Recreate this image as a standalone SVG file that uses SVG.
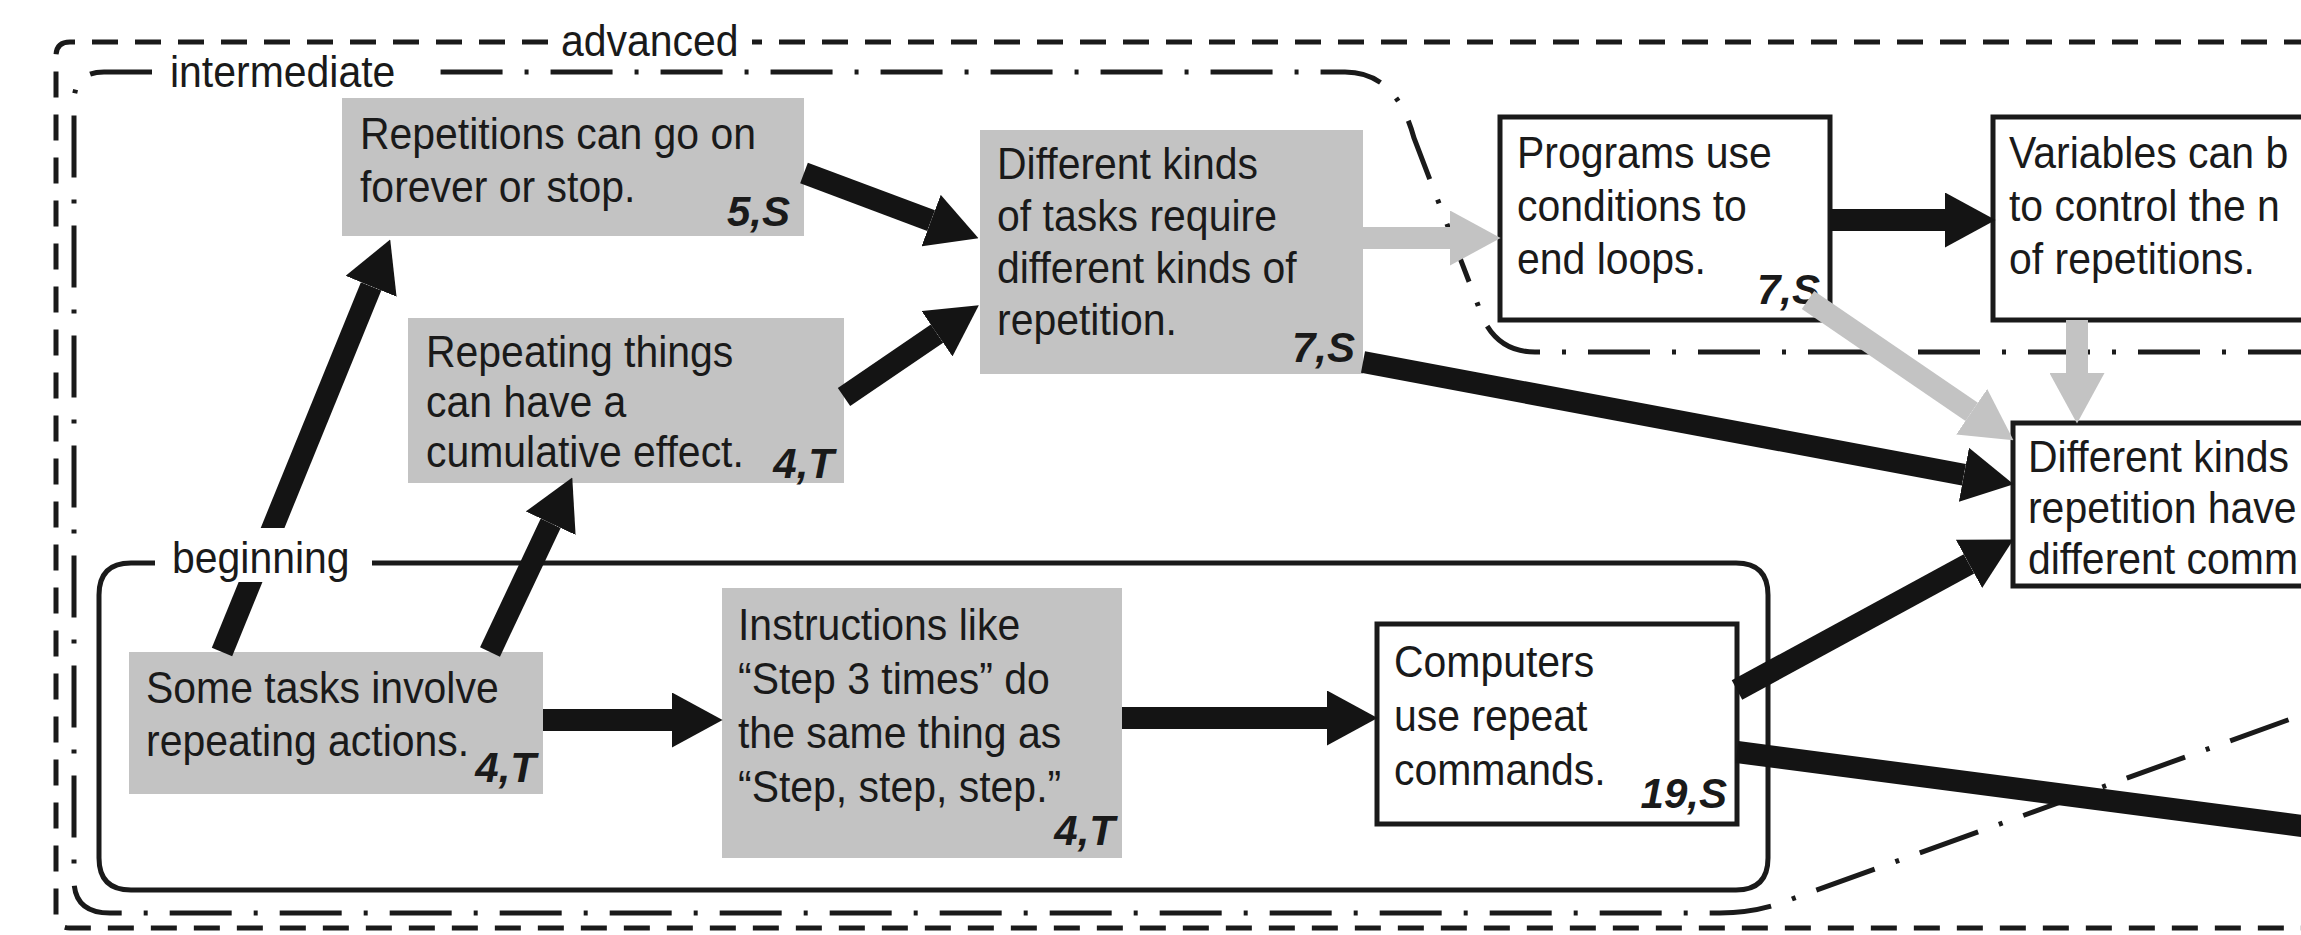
<svg xmlns="http://www.w3.org/2000/svg" width="2301" height="935" viewBox="0 0 2301 935">
<style>
  .t{font-family:"Liberation Sans",Arial,sans-serif;font-size:45px;fill:#1a1a1a}
  .n{font-family:"Liberation Sans",Arial,sans-serif;font-size:42px;font-weight:bold;font-style:italic;fill:#1a1a1a;text-anchor:end}
  .gray{fill:#c3c3c3}
  .white{fill:#ffffff;stroke:#1a1a1a;stroke-width:5}
  .adv{fill:none;stroke:#1a1a1a;stroke-width:5;stroke-dasharray:26 17}
  .int{fill:none;stroke:#1a1a1a;stroke-width:5;stroke-dasharray:62 22 4 22}
  .beg{fill:none;stroke:#1a1a1a;stroke-width:5}
  .blk{stroke:#141414;stroke-width:22;fill:none}
  .gry{stroke:#c3c3c3;stroke-width:22;fill:none}
</style>
<defs>
  <marker id="hb" viewBox="0 0 20 25" refX="0" refY="12.5" markerWidth="2.3" markerHeight="2.5" orient="auto" markerUnits="strokeWidth" preserveAspectRatio="none">
    <path d="M0,0 L20,12.5 L0,25 z" fill="#141414"/>
  </marker>
  <marker id="hg" viewBox="0 0 20 25" refX="0" refY="12.5" markerWidth="2.3" markerHeight="2.5" orient="auto" markerUnits="strokeWidth" preserveAspectRatio="none">
    <path d="M0,0 L20,12.5 L0,25 z" fill="#c3c3c3"/>
  </marker>
</defs>
<rect width="2301" height="935" fill="#ffffff"/>

<g id="region-advanced">
  <path class="adv" d="M2310,42 H752 M548,42 H70 Q56,42 56,56 V914 Q56,928 70,928 H2310"/>
</g>
<g id="region-intermediate">
  <path class="int" d="M2310,352 H1535 Q1492,352 1478,305 L1414,138 Q1396,72 1345,72 H428 M152,72 H104 Q74,72 74,102 V880 Q74,913 110,913 H1720 Q1758,913 1792,899 L2310,712"/>
</g>
<g id="region-beginning">
  <path class="beg" d="M372,563 H1736 Q1768,563 1768,595 V858 Q1768,890 1736,890 H131 Q99,890 99,858 V595 Q99,563 131,563 H155"/>
</g>

<g id="n1">
  <rect class="gray" x="342" y="98" width="462" height="138"/>
  <g transform="matrix(0.91 0 0 1 32.4 0)">
    <text class="t" x="360" y="149">Repetitions can go on</text>
    <text class="t" x="360" y="202">forever or stop.</text>
  </g>
  <text class="n" x="790" y="226">5,S</text>
</g>
<g id="n2">
  <rect class="gray" x="408" y="318" width="436" height="165"/>
  <g transform="matrix(0.91 0 0 1 38.34 0)">
    <text class="t" x="426" y="367">Repeating things</text>
    <text class="t" x="426" y="417">can have a</text>
    <text class="t" x="426" y="467">cumulative effect.</text>
  </g>
  <text class="n" x="834" y="478">4,T</text>
</g>
<g id="n3">
  <rect class="gray" x="980" y="130" width="383" height="244"/>
  <g transform="matrix(0.91 0 0 1 89.73 0)">
    <text class="t" x="997" y="179">Different kinds</text>
    <text class="t" x="997" y="231">of tasks require</text>
    <text class="t" x="997" y="283">different kinds of</text>
    <text class="t" x="997" y="335">repetition.</text>
  </g>
  <text class="n" x="1355" y="362">7,S</text>
</g>
<g id="n4">
  <rect class="white" x="1500" y="117" width="330" height="203"/>
  <g transform="matrix(0.91 0 0 1 136.53 0)">
    <text class="t" x="1517" y="168">Programs use</text>
    <text class="t" x="1517" y="221">conditions to</text>
    <text class="t" x="1517" y="274">end loops.</text>
  </g>
  <text class="n" x="1820" y="304">7,S</text>
</g>
<g id="n5">
  <rect class="white" x="1993" y="117" width="340" height="203"/>
  <g transform="matrix(0.91 0 0 1 180.81 0)">
    <text class="t" x="2009" y="168">Variables can b</text>
    <text class="t" x="2009" y="221">to control the n</text>
    <text class="t" x="2009" y="274">of repetitions.</text>
  </g>
</g>
<g id="n6">
  <rect class="white" x="2013" y="423" width="320" height="163"/>
  <g transform="matrix(0.91 0 0 1 182.52 0)">
    <text class="t" x="2028" y="472">Different kinds</text>
    <text class="t" x="2028" y="523">repetition have</text>
    <text class="t" x="2028" y="574">different comm</text>
  </g>
</g>
<g id="n7">
  <rect class="gray" x="129" y="652" width="414" height="142"/>
  <g transform="matrix(0.91 0 0 1 13.14 0)">
    <text class="t" x="146" y="703">Some tasks involve</text>
    <text class="t" x="146" y="756">repeating actions.</text>
  </g>
  <text class="n" x="536" y="782">4,T</text>
</g>
<g id="n8">
  <rect class="gray" x="722" y="588" width="400" height="270"/>
  <g transform="matrix(0.91 0 0 1 66.42 0)">
    <text class="t" x="738" y="640">Instructions like</text>
    <text class="t" x="738" y="694">“Step 3 times” do</text>
    <text class="t" x="738" y="748">the same thing as</text>
    <text class="t" x="738" y="802">“Step, step, step.”</text>
  </g>
  <text class="n" x="1115" y="845">4,T</text>
</g>
<g id="n9">
  <rect class="white" x="1377" y="624" width="360" height="200"/>
  <g transform="matrix(0.91 0 0 1 125.46 0)">
    <text class="t" x="1394" y="677">Computers</text>
    <text class="t" x="1394" y="731">use repeat</text>
    <text class="t" x="1394" y="785">commands.</text>
  </g>
  <text class="n" x="1727" y="808">19,S</text>
</g>

<g id="connectors">
  <line class="blk" x1="222" y1="652" x2="371.1" y2="286.3" marker-end="url(#hb)"/>
  <line class="blk" x1="490" y1="652" x2="550.7" y2="523.2" marker-end="url(#hb)"/>
  <line class="blk" x1="543" y1="720" x2="672" y2="720" marker-end="url(#hb)"/>
  <line class="blk" x1="1122" y1="718" x2="1327" y2="718" marker-end="url(#hb)"/>
  <line class="blk" x1="804" y1="173" x2="931.1" y2="220.6" marker-end="url(#hb)"/>
  <line class="blk" x1="844" y1="397" x2="937" y2="333.7" marker-end="url(#hb)"/>
  <line class="blk" x1="1363" y1="362" x2="1963.9" y2="474.8" marker-end="url(#hb)"/>
  <line class="blk" x1="1737" y1="690" x2="1969" y2="563.8" marker-end="url(#hb)"/>
  <line class="blk" x1="1737" y1="752" x2="2310" y2="827"/>
  <line class="blk" x1="1830" y1="220" x2="1945" y2="220" marker-end="url(#hb)"/>
  <line class="gry" x1="1363" y1="238" x2="1450" y2="238" marker-end="url(#hg)"/>
  <line class="gry" x1="1808" y1="300" x2="1971.7" y2="411.8" marker-end="url(#hg)"/>
  <line class="gry" x1="2077" y1="320" x2="2077" y2="373" marker-end="url(#hg)"/>
</g>

<g id="labels">
  <g transform="matrix(0.91 0 0 1 50.49 0)">
    <text class="t" x="561" y="56">advanced</text>
  </g>
  <g transform="matrix(0.91 0 0 1 15.3 0)">
    <text class="t" x="170" y="87">intermediate</text>
  </g>
  <rect x="160" y="528" width="205" height="54" fill="#ffffff"/>
  <g transform="matrix(0.91 0 0 1 15.48 0)">
    <text class="t" x="172" y="573">beginning</text>
  </g>
</g>
</svg>
